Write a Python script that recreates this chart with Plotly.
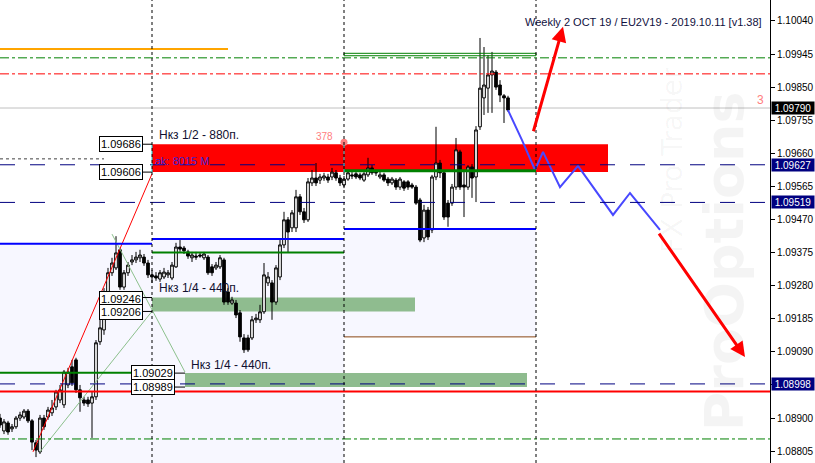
import plotly.graph_objects as go

# ---------------- candle data (EURUSD-like, H1 bars) ----------------
opens = [1.08900,1.08863,1.08886,1.08869,1.08875,1.08900,1.08903,1.08920,1.08892,1.08829,
1.08803,1.08900,1.08903,1.08915,1.08932,1.08952,1.08938,1.08995,1.09047,1.09067,
1.08981,1.08952,1.08952,1.08943,1.08961,1.09119,1.09153,1.09259,1.09317,1.09331,
1.09383,1.09276,1.09317,1.09348,1.09354,1.09360,1.09362,1.09345,1.09311,1.09308,
1.09299,1.09305,1.09311,1.09302,1.09334,1.09391,1.09388,1.09377,1.09360,1.09365,
1.09368,1.09360,1.09362,1.09334,1.09331,1.09334,1.09354,1.09262,1.09230,1.09230,
1.09202,1.09130,1.09130,1.09130,1.09182,1.09182,1.09205,1.09288,1.09288,1.09233,
1.09305,1.09397,1.09469,1.09446,1.09446,1.09535,1.09492,1.09469,1.09575,1.09589,
1.09583,1.09589,1.09592,1.09592,1.09604,1.09589,1.09569,1.09586,1.09598,1.09601,
1.09598,1.09583,1.09598,1.09618,1.09606,1.09592,1.09598,1.09586,1.09575,1.09583,
1.09563,1.09578,1.09578,1.09569,1.09563,1.09526,1.09417,1.09497,1.09440,1.09592,
1.09632,1.09604,1.09517,1.09517,1.09563,1.09664,1.09569,1.09563,1.09621,1.09592,
1.09736,1.09819,1.09847,1.09885,1.09893,1.09856,1.09825,1.09819]

highs = [1.08912,1.08897,1.08892,1.08883,1.08906,1.08918,1.08926,1.08926,1.08897,1.08837,
1.08909,1.08909,1.08932,1.08952,1.08981,1.08995,1.09038,1.09044,1.09067,1.09073,
1.08995,1.08961,1.08961,1.08975,1.09124,1.09182,1.09273,1.09331,1.09360,1.09422,
1.09388,1.09325,1.09348,1.09368,1.09377,1.09383,1.09371,1.09354,1.09325,1.09319,
1.09325,1.09331,1.09325,1.09348,1.09403,1.09411,1.09394,1.09383,1.09377,1.09377,
1.09374,1.09377,1.09368,1.09342,1.09348,1.09368,1.09360,1.09273,1.09248,1.09239,
1.09210,1.09141,1.09139,1.09193,1.09199,1.09225,1.09345,1.09319,1.09296,1.09339,
1.09411,1.09492,1.09477,1.09497,1.09555,1.09543,1.09503,1.09589,1.09612,1.09632,
1.09601,1.09604,1.09601,1.09618,1.09612,1.09598,1.09595,1.09612,1.09606,1.09609,
1.09604,1.09606,1.09647,1.09626,1.09612,1.09606,1.09604,1.09592,1.09592,1.09589,
1.09592,1.09583,1.09583,1.09575,1.09569,1.09532,1.09512,1.09506,1.09598,1.09736,
1.09641,1.09612,1.09526,1.09572,1.09704,1.09670,1.09612,1.09626,1.09629,1.09738,
1.09991,1.09965,1.09942,1.09951,1.09899,1.09870,1.09830,1.09825]

lows = [1.08872,1.08854,1.08852,1.08860,1.08869,1.08892,1.08897,1.08886,1.08808,1.08788,
1.08797,1.08866,1.08895,1.08906,1.08923,1.08943,1.08929,1.08986,1.08992,1.08972,
1.08918,1.08935,1.08932,1.08843,1.08952,1.09110,1.09139,1.09250,1.09308,1.09325,
1.09268,1.09268,1.09308,1.09339,1.09345,1.09348,1.09337,1.09302,1.09288,1.09294,
1.09291,1.09299,1.09302,1.09296,1.09331,1.09377,1.09371,1.09357,1.09348,1.09354,
1.09360,1.09354,1.09311,1.09308,1.09325,1.09328,1.09225,1.09225,1.09225,1.09187,
1.09119,1.09087,1.09090,1.09124,1.09173,1.09173,1.09199,1.09279,1.09182,1.09225,
1.09296,1.09388,1.09374,1.09434,1.09434,1.09483,1.09460,1.09463,1.09566,1.09566,
1.09572,1.09581,1.09575,1.09583,1.09581,1.09566,1.09560,1.09581,1.09586,1.09586,
1.09583,1.09578,1.09592,1.09598,1.09595,1.09586,1.09578,1.09566,1.09569,1.09555,
1.09555,1.09552,1.09555,1.09558,1.09512,1.09405,1.09405,1.09411,1.09431,1.09583,
1.09589,1.09469,1.09449,1.09509,1.09555,1.09555,1.09477,1.09555,1.09532,1.09520,
1.09727,1.09770,1.09776,1.09776,1.09842,1.09807,1.09747,1.09779]

closes = [1.08880,1.08889,1.08860,1.08875,1.08900,1.08909,1.08920,1.08892,1.08831,1.08808,
1.08900,1.08875,1.08923,1.08929,1.08975,1.08981,1.09032,1.09032,1.09001,1.08981,
1.08958,1.08943,1.08941,1.08961,1.09116,1.09159,1.09262,1.09317,1.09345,1.09374,
1.09276,1.09317,1.09339,1.09354,1.09362,1.09368,1.09345,1.09311,1.09305,1.09302,
1.09317,1.09319,1.09317,1.09339,1.09391,1.09385,1.09380,1.09365,1.09368,1.09362,
1.09365,1.09371,1.09317,1.09317,1.09339,1.09360,1.09233,1.09233,1.09239,1.09196,
1.09133,1.09096,1.09096,1.09182,1.09187,1.09205,1.09311,1.09305,1.09233,1.09331,
1.09397,1.09469,1.09434,1.09489,1.09535,1.09492,1.09469,1.09578,1.09589,1.09575,
1.09592,1.09595,1.09583,1.09606,1.09589,1.09575,1.09586,1.09604,1.09595,1.09592,
1.09589,1.09601,1.09618,1.09604,1.09604,1.09598,1.09583,1.09575,1.09586,1.09563,
1.09586,1.09560,1.09563,1.09563,1.09517,1.09411,1.09497,1.09420,1.09592,1.09632,
1.09604,1.09477,1.09477,1.09563,1.09670,1.09563,1.09563,1.09621,1.09589,1.09727,
1.09847,1.09856,1.09885,1.09896,1.09850,1.09827,1.09819,1.09784]

bar_index = list(range(len(opens)))

# ---------------- axis ----------------
tick_values = [1.10040, 1.09945, 1.09850, 1.09755, 1.09660, 1.09565, 1.09470,
               1.09375, 1.09280, 1.09185, 1.09090, 1.08995, 1.08900, 1.08805]
tick_labels = ["1.10040", "1.09945", "1.09850", "1.09755", "1.09660", "1.09565", "1.09470",
               "1.09375", "1.09280", "1.09185", "1.09090", "", "1.08900", "1.08805"]
price_range = [1.08771, 1.10100]
bar_range = [0, 192.5]

# ---------------- levels ----------------
session_breaks = [38, 86, 134]
current_price = 1.09790
green_dashdot_levels = [1.09934, 1.08840]
red_dashdot_level = 1.09888
navy_dashed_levels = [1.09627, 1.09519, 1.08998]
red_solid_level = 1.08976
orange_level = 1.09959
blue_levels = [1.09400, 1.09414, 1.09443]
green_levels = [1.09030, 1.09375, 1.09610]
green_box_levels = [1.09940, 1.09947]
range_floor = 1.09133
sell_zone = [1.09606, 1.09686]
tp_zone_1 = [1.09206, 1.09246]
tp_zone_2 = [1.08989, 1.09029]
zone_labels = ["1.09686", "1.09606", "1.09246", "1.09206", "1.09029", "1.08989"]
axis_marks = [("1.09790", "black"), ("1.09627", "#000080"), ("1.09519", "#000080"), ("1.08998", "#000080")]

# forecast path (bar index, price)
forecast_x = [127, 130.5, 133.75, 135.75, 140, 144.5, 153.25, 157.5, 165]
forecast_y = [1.09784, 1.09698, 1.09612, 1.09664, 1.09563, 1.09624, 1.09483, 1.09546, 1.09440]

# trend lines (bar index, price)
red_trend_x = [8.25, 38]
red_trend_y = [1.08803, 1.09601]
fan1_x = [10, 38.25]
fan1_y = [1.08803, 1.09210]
fan2_x = [28, 46.25]
fan2_y = [1.09428, 1.09032]

FONT = "Liberation Sans"

fig = go.Figure()

fig.add_trace(go.Candlestick(
    x=bar_index, open=opens, high=highs, low=lows, close=closes,
    increasing=dict(line=dict(color="black", width=1), fillcolor="white"),
    decreasing=dict(line=dict(color="black", width=1), fillcolor="black"),
    whiskerwidth=0, showlegend=False, hoverinfo="skip"))

# trend lines
fig.add_trace(go.Scatter(x=red_trend_x, y=red_trend_y, mode="lines",
                         line=dict(color="red", width=1), showlegend=False, hoverinfo="skip"))
fig.add_trace(go.Scatter(x=fan1_x, y=fan1_y, mode="lines",
                         line=dict(color="#8cc08c", width=1), showlegend=False, hoverinfo="skip"))
fig.add_trace(go.Scatter(x=fan2_x, y=fan2_y, mode="lines",
                         line=dict(color="#8cc08c", width=1), showlegend=False, hoverinfo="skip"))
# forecast
fig.add_trace(go.Scatter(x=forecast_x, y=forecast_y, mode="lines",
                         line=dict(color="#4848ff", width=2), showlegend=False, hoverinfo="skip"))
# salmon dot
fig.add_trace(go.Scatter(x=[session_breaks[1]], y=[1.09692], mode="markers",
                         marker=dict(color="#ff8080", size=7), showlegend=False, hoverinfo="skip"))

shapes = []
def hline(y, color, width=1, dash="solid", x0=None, x1=None, layer="above"):
    if x0 is None:
        shapes.append(dict(type="line", xref="paper", x0=0, x1=1, yref="y", y0=y, y1=y,
                           line=dict(color=color, width=width, dash=dash), layer=layer))
    else:
        shapes.append(dict(type="line", xref="x", x0=x0, x1=x1, yref="y", y0=y, y1=y,
                           line=dict(color=color, width=width, dash=dash), layer=layer))

def rect(x0, x1, y0, y1, fill, line_color=None, layer="below"):
    shapes.append(dict(type="rect", xref="x", x0=x0, x1=x1, yref="y", y0=y0, y1=y1,
                       fillcolor=fill, line=dict(width=1 if line_color else 0, color=line_color or fill),
                       layer=layer))

b0, b1, b2 = session_breaks
# lavender range backgrounds
rect(0, b0, price_range[0], blue_levels[0], "#f7f7ff")
rect(b0, b1, price_range[0], blue_levels[1], "#f7f7ff")
rect(b1, b2, range_floor, blue_levels[2], "#f7f7ff")
# zones
rect(b0, 152, sell_zone[0], sell_zone[1], "#ff0000")
rect(b0, 103.75, tp_zone_1[0], tp_zone_1[1], "#8fbc8f")
rect(46.25, 131.75, tp_zone_2[0], tp_zone_2[1], "#8fbc8f")
rect(b1, b2, green_box_levels[0], green_box_levels[1], "rgba(0,0,0,0)", "#008000", layer="above")

# horizontal levels
hline(orange_level, "#ffa500", 2, x0=0, x1=57)
for lv in green_dashdot_levels:
    hline(lv, "#008000", 1, "dashdot")
hline(red_dashdot_level, "#ff0000", 1, "dashdot")
hline(current_price, "#c0c0c0", 1, layer="below")
for lv in navy_dashed_levels:
    hline(lv, "#000080", 1, "longdash")
hline(1.09644, "#404040", 1, "dot", x0=0, x1=26)
hline(red_solid_level, "#ff0000", 2)
hline(blue_levels[0], "#0000ff", 2, x0=0, x1=b0)
hline(blue_levels[1], "#0000ff", 2, x0=b0, x1=b1)
hline(blue_levels[2], "#0000ff", 2, x0=b1, x1=b2)
hline(green_levels[0], "#008000", 2, x0=0, x1=b0)
hline(green_levels[1], "#008000", 2, x0=b0, x1=b1)
hline(green_levels[2], "#008000", 3, x0=b1, x1=b2)
hline(range_floor, "#8b4513", 1, x0=b1, x1=b2)
# connectors from price boxes
for yv in sell_zone + tp_zone_1:
    hline(yv, "black", 1, x0=35.75, x1=b0)
for yv in tp_zone_2:
    hline(yv, "black", 1, x0=43.75, x1=46.25)
# cyan markers
shapes.append(dict(type="line", xref="x", x0=b0, x1=b0, yref="y", y0=sell_zone[0], y1=sell_zone[1],
                   line=dict(color="#00e0e0", width=1, dash="dot")))
shapes.append(dict(type="line", xref="x", x0=b1, x1=b1, yref="y", y0=sell_zone[0], y1=1.09692,
                   line=dict(color="#00e0e0", width=1, dash="dot")))
# session separators
for b in session_breaks:
    shapes.append(dict(type="line", xref="x", x0=b, x1=b, yref="paper", y0=0, y1=1,
                       line=dict(color="black", width=1, dash="dot"), layer="above"))

annotations = []
# watermark
annotations.append(dict(xref="x", yref="y", x=181, y=1.09350, text="<b>ProOptions</b>", textangle=-90,
                        showarrow=False, font=dict(family="DejaVu Sans", size=54, color="rgba(0,0,0,0.045)")))
annotations.append(dict(xref="x", yref="y", x=168, y=1.09640, text="FX Pro Trader", textangle=-90,
                        showarrow=False, font=dict(family="DejaVu Sans", size=28, color="rgba(0,0,0,0.045)")))

# arrows
annotations.append(dict(xref="x", yref="y", axref="x", ayref="y", x=140.75, y=1.10023, ax=133.25, ay=1.09719,
                        showarrow=True, arrowcolor="#ff0000", arrowwidth=3, arrowhead=2, arrowsize=1, text=""))
annotations.append(dict(xref="x", yref="y", axref="x", ayref="y", x=186.25, y=1.09075, ax=164.5, ay=1.09434,
                        showarrow=True, arrowcolor="#ff0000", arrowwidth=3, arrowhead=2, arrowsize=1, text=""))

# title
annotations.append(dict(xref="x", yref="y", x=130.75, y=1.10037, xanchor="left", yanchor="middle",
                        text="Weekly 2 OCT 19 / EU2V19 - 2019.10.11 [v1.38]", showarrow=False,
                        font=dict(family=FONT, size=11, color="#101040")))
# zone texts
annotations.append(dict(xref="x", yref="y", x=39.25, y=1.09713, xanchor="left", yanchor="middle",
                        text="Нкз 1/2 - 880п.", showarrow=False, font=dict(family=FONT, size=12, color="#101030")))
annotations.append(dict(xref="x", yref="y", x=39.25, y=1.09273, xanchor="left", yanchor="middle",
                        text="Нкз 1/4 - 440п.", showarrow=False, font=dict(family=FONT, size=12, color="#101030")))
annotations.append(dict(xref="x", yref="y", x=47.25, y=1.09052, xanchor="left", yanchor="middle",
                        text="Нкз 1/4 - 440п.", showarrow=False, font=dict(family=FONT, size=12, color="#101030")))
annotations.append(dict(xref="x", yref="y", x=38.25, y=1.09638, xanchor="left", yanchor="middle",
                        text="ak: 8015 M", showarrow=False, font=dict(family=FONT, size=11, color="#3a20d0")))
annotations.append(dict(xref="x", yref="y", x=83.75, y=1.09707, xanchor="right", yanchor="middle",
                        text="378", showarrow=False, font=dict(family=FONT, size=10, color="#ff8080")))
annotations.append(dict(xref="x", yref="y", x=190, y=1.09813, xanchor="center", yanchor="middle",
                        text="3", showarrow=False, font=dict(family=FONT, size=12, color="#ff8080")))

# price boxes at zone edges
box_pos = [(35.75, sell_zone[1]), (35.75, sell_zone[0]), (35.75, 1.09242), (35.75, 1.09205),
           (43.75, 1.09028), (43.75, 1.08989)]
for (bx, by), lab in zip(box_pos, zone_labels):
    annotations.append(dict(xref="x", yref="y", x=bx, y=by, xanchor="right", yanchor="middle",
                            text=lab, showarrow=False, bgcolor="white", bordercolor="black",
                            borderwidth=1, borderpad=1, font=dict(family=FONT, size=11, color="black")))

# axis price marks
mark_values = [1.09790, 1.09627, 1.09519, 1.08998]
for (lab, col), mv in zip(axis_marks, mark_values):
    annotations.append(dict(xref="paper", yref="y", x=1.0, y=mv, xanchor="left", yanchor="middle",
                            text=lab, showarrow=False, bgcolor=col, width=42, height=12, align="center",
                            borderpad=0, xshift=1,
                            font=dict(family=FONT, size=10, color="white")))

fig.update_layout(
    width=815, height=463,
    margin=dict(l=0, r=45, t=0, b=0),
    paper_bgcolor="white", plot_bgcolor="white",
    shapes=shapes, annotations=annotations,
    showlegend=False, boxgap=0.05,
    xaxis=dict(range=bar_range, showgrid=False, zeroline=False, showticklabels=False,
               rangeslider=dict(visible=False), fixedrange=True),
    yaxis=dict(range=price_range, side="right", showgrid=False, zeroline=False,
               tickvals=tick_values, ticktext=tick_labels, ticks="outside", ticklen=4,
               tickcolor="black", showline=True, linecolor="black", linewidth=1,
               tickfont=dict(family=FONT, size=10, color="black")),
)

fig.write_html("out.html")
